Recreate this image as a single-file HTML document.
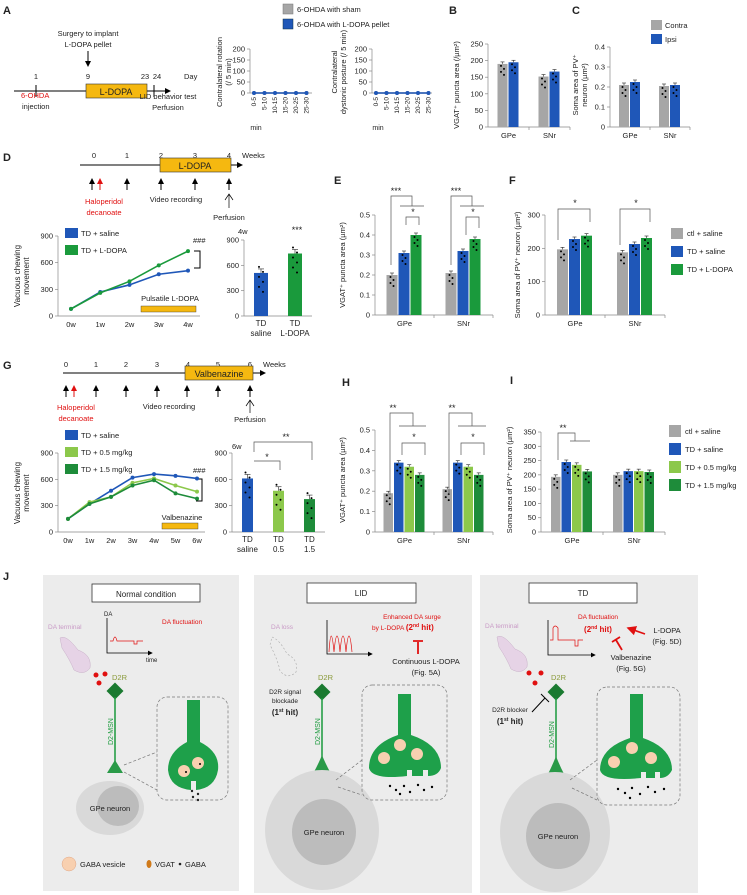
<!DOCTYPE html>
<html><head><meta charset="utf-8"><style>
html,body{margin:0;padding:0;background:#fff}
svg{display:block;font-family:"Liberation Sans",Arial,sans-serif}
</style></head><body>
<svg id="fig" width="747" height="895" viewBox="0 0 747 895" xmlns="http://www.w3.org/2000/svg">
<defs>
<marker id="ah" markerWidth="6" markerHeight="6" refX="5" refY="3" orient="auto"><path d="M0,0 L6,3 L0,6 Z" fill="#000"/></marker>
<marker id="ahr" markerWidth="6" markerHeight="6" refX="5" refY="3" orient="auto"><path d="M0,0 L6,3 L0,6 Z" fill="#e01010"/></marker>
</defs>
<g font-size="7.5" fill="#222">
<!-- Panel labels -->
<text x="3" y="14" font-size="11" font-weight="bold">A</text>
<text x="449" y="14" font-size="11" font-weight="bold">B</text>
<text x="572" y="14" font-size="11" font-weight="bold">C</text>
<text x="3" y="161" font-size="11" font-weight="bold">D</text>
<text x="334" y="184" font-size="11" font-weight="bold">E</text>
<text x="509" y="184" font-size="11" font-weight="bold">F</text>
<text x="3" y="369" font-size="11" font-weight="bold">G</text>
<text x="342" y="386" font-size="11" font-weight="bold">H</text>
<text x="510" y="384" font-size="11" font-weight="bold">I</text>
<text x="3" y="580" font-size="11" font-weight="bold">J</text>

<!-- Panel A timeline -->
<g>
<text x="88" y="36" text-anchor="middle">Surgery to implant</text>
<text x="88" y="47" text-anchor="middle">L-DOPA pellet</text>
<line x1="88" y1="51" x2="88" y2="66" stroke="#000" stroke-width="1" marker-end="url(#ah)"/>
<text x="36" y="79" text-anchor="middle">1</text><text x="88" y="79" text-anchor="middle">9</text>
<text x="145" y="79" text-anchor="middle">23</text><text x="157" y="79" text-anchor="middle">24</text><text x="184" y="79">Day</text>
<line x1="14" y1="91" x2="170" y2="91" stroke="#000" marker-end="url(#ah)"/>
<line x1="36" y1="85" x2="36" y2="97" stroke="#000"/><line x1="154" y1="85" x2="154" y2="97" stroke="#000"/>
<rect x="86" y="84" width="61" height="14" fill="#f5b810" stroke="#333" stroke-width="0.6"/>
<text x="116" y="95" text-anchor="middle" font-size="9">L-DOPA</text>
<text x="21" y="98" fill="#e01010">6-OHDA</text><text x="22" y="109">injection</text>
<text x="168" y="99" text-anchor="middle">LID behavior test</text><text x="168" y="110" text-anchor="middle">Perfusion</text>
</g>
<g>
<rect x="283" y="4" width="10" height="10" fill="#a6a6a6" stroke="#777" stroke-width="0.5"/><text x="297" y="12">6-OHDA with sham</text>
<rect x="283" y="19" width="10" height="10" fill="#1f57b8" stroke="#134" stroke-width="0.5"/><text x="297" y="27">6-OHDA with L-DOPA pellet</text>
</g>
<!-- Legends C -->
<g>
<rect x="651" y="20" width="11" height="10" fill="#a6a6a6"/><text x="665" y="28">Contra</text>
<rect x="651" y="34" width="11" height="10" fill="#1f57b8"/><text x="665" y="42">Ipsi</text>
</g>

<!-- Panel D timeline -->
<g>
<text x="94" y="158" text-anchor="middle">0</text><text x="127" y="158" text-anchor="middle">1</text><text x="161" y="158" text-anchor="middle">2</text><text x="195" y="158" text-anchor="middle">3</text><text x="229" y="158" text-anchor="middle">4</text><text x="242" y="158">Weeks</text>
<line x1="80" y1="165" x2="242" y2="165" stroke="#000" marker-end="url(#ah)"/>
<rect x="160" y="158" width="71" height="14" fill="#f5b810" stroke="#333" stroke-width="0.6"/>
<text x="195" y="169" text-anchor="middle" font-size="9">L-DOPA</text>
<line x1="92" y1="190" x2="92" y2="179" stroke="#000" marker-end="url(#ah)"/>
<line x1="100" y1="190" x2="100" y2="179" stroke="#e01010" marker-end="url(#ahr)"/>
<line x1="127" y1="190" x2="127" y2="179" stroke="#000" marker-end="url(#ah)"/>
<line x1="161" y1="190" x2="161" y2="179" stroke="#000" marker-end="url(#ah)"/>
<line x1="195" y1="190" x2="195" y2="179" stroke="#000" marker-end="url(#ah)"/>
<line x1="229" y1="190" x2="229" y2="179" stroke="#000" marker-end="url(#ah)"/>
<path d="M225,200 L229,194 L233,200 M229,194 L229,208" stroke="#000" fill="none" stroke-width="0.7"/>
<text x="104" y="204" text-anchor="middle" fill="#e01010">Haloperidol</text><text x="104" y="215" text-anchor="middle" fill="#e01010">decanoate</text>
<text x="176" y="202" text-anchor="middle">Video recording</text><text x="229" y="220" text-anchor="middle">Perfusion</text>
</g>
<g>
<rect x="65" y="228" width="13" height="10" fill="#1f57b8"/><text x="81" y="236">TD + saline</text>
<rect x="65" y="245" width="13" height="10" fill="#1a9a3c"/><text x="81" y="253">TD + L-DOPA</text>
<text x="193" y="243">###</text>
<path d="M194,251 H200 V268 H194" stroke="#000" fill="none"/>
<text x="170" y="301" text-anchor="middle">Pulsatile L-DOPA</text>
<rect x="141" y="306" width="55" height="6" fill="#f5b810" stroke="#333" stroke-width="0.4"/>
<text x="238" y="234">4w</text><text x="297" y="233" text-anchor="middle" font-size="9">***</text>
</g>
<g>
<rect x="671" y="228" width="12" height="11" fill="#a6a6a6"/><text x="687" y="236">ctl + saline</text>
<rect x="671" y="246" width="12" height="11" fill="#1f57b8"/><text x="687" y="254">TD + saline</text>
<rect x="671" y="264" width="12" height="11" fill="#1a9a3c"/><text x="687" y="272">TD + L-DOPA</text>
</g>

<!-- Panel G timeline -->
<g>
<text x="66" y="367" text-anchor="middle">0</text><text x="96" y="367" text-anchor="middle">1</text><text x="126" y="367" text-anchor="middle">2</text><text x="157" y="367" text-anchor="middle">3</text><text x="188" y="367" text-anchor="middle">4</text><text x="218" y="367" text-anchor="middle">5</text><text x="250" y="367" text-anchor="middle">6</text><text x="263" y="367">Weeks</text>
<line x1="63" y1="373" x2="265" y2="373" stroke="#000" marker-end="url(#ah)"/>
<rect x="185" y="366" width="68" height="14" fill="#f5b810" stroke="#333" stroke-width="0.6"/>
<text x="219" y="377" text-anchor="middle" font-size="9">Valbenazine</text>
<line x1="66" y1="397" x2="66" y2="386" stroke="#000" marker-end="url(#ah)"/>
<line x1="74" y1="397" x2="74" y2="386" stroke="#e01010" marker-end="url(#ahr)"/>
<line x1="96" y1="397" x2="96" y2="386" stroke="#000" marker-end="url(#ah)"/>
<line x1="126" y1="397" x2="126" y2="386" stroke="#000" marker-end="url(#ah)"/>
<line x1="157" y1="397" x2="157" y2="386" stroke="#000" marker-end="url(#ah)"/>
<line x1="187" y1="397" x2="187" y2="386" stroke="#000" marker-end="url(#ah)"/>
<line x1="218" y1="397" x2="218" y2="386" stroke="#000" marker-end="url(#ah)"/>
<line x1="250" y1="397" x2="250" y2="386" stroke="#000" marker-end="url(#ah)"/>
<path d="M246,406 L250,400 L254,406 M250,400 L250,413" stroke="#000" fill="none" stroke-width="0.7"/>
<text x="76" y="410" text-anchor="middle" fill="#e01010">Haloperidol</text><text x="76" y="421" text-anchor="middle" fill="#e01010">decanoate</text>
<text x="169" y="409" text-anchor="middle">Video recording</text><text x="250" y="422" text-anchor="middle">Perfusion</text>
</g>
<g>
<rect x="65" y="430" width="13" height="10" fill="#1f57b8"/><text x="81" y="438">TD + saline</text>
<rect x="65" y="447" width="13" height="10" fill="#8cc84b"/><text x="81" y="455">TD + 0.5 mg/kg</text>
<rect x="65" y="464" width="13" height="10" fill="#1e8c3a"/><text x="81" y="472">TD + 1.5 mg/kg</text>
<text x="193" y="473">###</text>
<path d="M196,479 H202 V501 H196" stroke="#000" fill="none"/>
<text x="182" y="520" text-anchor="middle">Valbenazine</text>
<rect x="162" y="523" width="36" height="6" fill="#f5b810" stroke="#333" stroke-width="0.4"/>
<text x="232" y="449">6w</text>
</g>
<g>
<rect x="669" y="425" width="12" height="12" fill="#a6a6a6"/><text x="685" y="434">ctl + saline</text>
<rect x="669" y="443" width="12" height="12" fill="#1f57b8"/><text x="685" y="452">TD + saline</text>
<rect x="669" y="461" width="12" height="12" fill="#8cc84b"/><text x="685" y="470">TD + 0.5 mg/kg</text>
<rect x="669" y="479" width="12" height="12" fill="#1e8c3a"/><text x="685" y="488">TD + 1.5 mg/kg</text>
</g>
<g id="charts"></g>

<!-- Panel J -->
<g>
<rect x="43" y="575" width="196" height="316" fill="#ececec"/>
<rect x="92" y="584" width="108" height="18" fill="#fff" stroke="#333" stroke-width="0.8"/>
<text x="146" y="597" text-anchor="middle" font-size="8">Normal condition</text>
<text x="48" y="629" fill="#c99ac6" font-size="6.5">DA terminal</text>
<path d="M60,638 Q66,634 78,650 Q92,655 90,668 Q84,676 74,670 Q70,660 62,648 Z" fill="#e6d3e6" stroke="#c8b0c8" stroke-width="0.5"/>
<text x="104" y="616" font-size="6">DA</text>
<path d="M107,618 V653 H152" stroke="#000" fill="none" stroke-width="0.8" marker-end="url(#ah)"/>
<path d="M110,641 H113 Q115,633 117,641 H134 V644 H137 V641 H143" stroke="#e01010" fill="none" stroke-width="0.7"/>
<text x="146" y="662" font-size="6">time</text>
<text x="162" y="624" fill="#e01010" font-size="6.5">DA fluctuation</text>
<circle cx="96" cy="675" r="2.5" fill="#e01010"/><circle cx="105" cy="674" r="2.5" fill="#e01010"/><circle cx="99" cy="683" r="2.5" fill="#e01010"/>
<text x="112" y="680" fill="#8a9a3a" font-size="7.5">D2R</text>
<rect x="109" y="685" width="12" height="12" fill="#1a7a30" transform="rotate(45 115 691)"/>
<line x1="115" y1="697" x2="115" y2="762" stroke="#1a9a3c" stroke-width="1.5"/>
<text x="0" y="0" fill="#1a9a3c" font-size="7" transform="translate(113,745) rotate(-90)">D2-MSN</text>
<path d="M115,760 L107,773 H123 Z" fill="#2a9a48"/>
<ellipse cx="110" cy="808" rx="34" ry="27" fill="#d9d9d9"/><ellipse cx="118" cy="806" rx="21" ry="20" fill="#bcbcbc"/>
<text x="110" y="811" text-anchor="middle" font-size="7.5">GPe neuron</text>
<rect x="157" y="697" width="71" height="103" rx="10" fill="none" stroke="#777" stroke-dasharray="3,2" stroke-width="0.7"/>
<path d="M124,765 L157,752 M124,772 L157,790" stroke="#777" stroke-dasharray="3,2" stroke-width="0.7"/>
<path d="M187,700 H200 V742 Q220,752 218,770 Q215,788 196,790 V781 H191 V790 Q170,788 168,770 Q168,752 187,742 Z" fill="#1ea04a"/>
<circle cx="184" cy="771" r="6" fill="#f8d0b0"/><circle cx="198" cy="763" r="6" fill="#f8d0b0"/>
<circle cx="186" cy="772" r="1" fill="#000"/><circle cx="200" cy="764" r="1" fill="#000"/>
<circle cx="193" cy="797" r="1.2"/><circle cx="198" cy="794" r="1.2"/><circle cx="198" cy="800" r="1.2"/><circle cx="192" cy="791" r="1.2"/>
<circle cx="69" cy="864" r="7" fill="#f8d0b0" stroke="#e0a888" stroke-width="0.5"/><text x="80" y="867" font-size="7.5">GABA vesicle</text>
<ellipse cx="149" cy="864" rx="2.5" ry="4" fill="#d07a1a"/><text x="155" y="867" font-size="7.5">VGAT</text>
<circle cx="180" cy="864" r="1.3"/><text x="185" y="867" font-size="7.5">GABA</text>
</g>
<g>
<rect x="254" y="575" width="218" height="318" fill="#ececec"/>
<rect x="307" y="583" width="109" height="20" fill="#fff" stroke="#333" stroke-width="0.8"/>
<text x="361" y="596" text-anchor="middle" font-size="8">LID</text>
<text x="271" y="629" fill="#c99ac6" font-size="6.5">DA loss</text>
<path d="M272,637 Q280,640 287,654 Q299,660 296,672 Q288,680 280,671 Q278,660 270,645 Z" fill="none" stroke="#aaa" stroke-dasharray="2,2" stroke-width="0.6"/>
<path d="M327,620 V654 H372" stroke="#000" fill="none" stroke-width="0.8" marker-end="url(#ah)"/>
<path d="M329,652 Q331,620 334,652 Q337,620 340,652 Q343,620 346,652 Q349,620 352,652" stroke="#e01010" fill="none" stroke-width="0.7"/>
<text x="412" y="619" text-anchor="middle" fill="#e01010" font-size="6.5">Enhanced DA surge</text>
<text x="372" y="630" fill="#e01010" font-size="6.5">by L-DOPA <tspan font-weight="bold" font-size="8">(2<tspan font-size="5" dy="-3">nd</tspan><tspan dy="3"> hit)</tspan></tspan></text>
<path d="M418,654 V642 M413,641 H423" stroke="#e01010" stroke-width="1.8" fill="none"/>
<text x="426" y="664" text-anchor="middle" font-size="7.5">Continuous L-DOPA</text>
<text x="426" y="675" text-anchor="middle" font-size="7.5">(Fig. 5A)</text>
<text x="318" y="680" fill="#8a9a3a" font-size="7.5">D2R</text>
<rect x="316" y="686" width="12" height="12" fill="#1a7a30" transform="rotate(45 322 692)"/>
<text x="285" y="694" text-anchor="middle" font-size="6.5">D2R signal</text>
<text x="285" y="703" text-anchor="middle" font-size="6.5">blockade</text>
<text x="285" y="715" text-anchor="middle" font-size="8" font-weight="bold">(1<tspan font-size="5" dy="-3">st</tspan><tspan dy="3"> hit)</tspan></text>
<line x1="322" y1="698" x2="322" y2="757" stroke="#1a9a3c" stroke-width="1.5"/>
<text fill="#1a9a3c" font-size="7" transform="translate(320,745) rotate(-90)">D2-MSN</text>
<path d="M322,755 Q316,770 306,785 Q322,792 338,785 Q328,770 322,755 Z" fill="#2a9a48"/>
<ellipse cx="322" cy="830" rx="57" ry="60" fill="#d9d9d9"/><ellipse cx="324" cy="832" rx="32" ry="33" fill="#bcbcbc"/>
<text x="324" y="835" text-anchor="middle" font-size="7.5">GPe neuron</text>
<rect x="362" y="685" width="85" height="115" rx="10" fill="none" stroke="#777" stroke-dasharray="3,2" stroke-width="0.7"/>
<path d="M336,780 L362,760 M338,787 L362,795" stroke="#777" stroke-dasharray="3,2" stroke-width="0.7"/>
<path d="M398,694 H411 V735 Q441,745 441,768 Q438,776 428,776 V770 H423 V776 H412 V770 H407 V776 Q372,780 369,768 Q369,745 398,735 Z" fill="#1ea04a"/>
<circle cx="400" cy="745" r="6" fill="#f8d0b0"/><circle cx="384" cy="758" r="6" fill="#f8d0b0"/><circle cx="417" cy="754" r="6" fill="#f8d0b0"/>
<g fill="#000"><circle cx="390" cy="786" r="1.2"/><circle cx="396" cy="790" r="1.2"/><circle cx="404" cy="786" r="1.2"/><circle cx="410" cy="792" r="1.2"/><circle cx="418" cy="785" r="1.2"/><circle cx="424" cy="790" r="1.2"/><circle cx="432" cy="787" r="1.2"/><circle cx="400" cy="794" r="1.2"/></g>
</g>
<g>
<rect x="480" y="575" width="218" height="318" fill="#ececec"/>
<rect x="529" y="583" width="108" height="20" fill="#fff" stroke="#333" stroke-width="0.8"/>
<text x="583" y="596" text-anchor="middle" font-size="8">TD</text>
<text x="485" y="628" fill="#c99ac6" font-size="6.5">DA terminal</text>
<path d="M497,637 Q503,633 515,649 Q529,654 527,667 Q521,675 511,669 Q507,659 499,647 Z" fill="#e6d3e6" stroke="#c8b0c8" stroke-width="0.5"/>
<path d="M548,620 V655 H595" stroke="#000" fill="none" stroke-width="0.8" marker-end="url(#ah)"/>
<path d="M550,640 H553 V628 Q555,624 558,628 V640 H575 V646 H578 V640 H583" stroke="#e01010" fill="none" stroke-width="0.7"/>
<text x="598" y="619" text-anchor="middle" fill="#e01010" font-size="6.5">DA fluctuation</text>
<text x="598" y="632" text-anchor="middle" fill="#e01010" font-size="8" font-weight="bold">(2<tspan font-size="5" dy="-3">nd</tspan><tspan dy="3"> hit)</tspan></text>
<line x1="645" y1="634" x2="628" y2="628" stroke="#e01010" stroke-width="1.6" marker-end="url(#ahr)"/>
<text x="667" y="633" text-anchor="middle" font-size="7.5">L-DOPA</text><text x="667" y="644" text-anchor="middle" font-size="7.5">(Fig. 5D)</text>
<path d="M622,650 L616,640 M612,642 L620,637" stroke="#e01010" stroke-width="1.8" fill="none"/>
<text x="631" y="660" text-anchor="middle" font-size="7.5">Valbenazine</text><text x="631" y="671" text-anchor="middle" font-size="7.5">(Fig. 5G)</text>
<circle cx="529" cy="673" r="2.5" fill="#e01010"/><circle cx="541" cy="673" r="2.5" fill="#e01010"/><circle cx="535" cy="683" r="2.5" fill="#e01010"/>
<text x="551" y="680" fill="#8a9a3a" font-size="7.5">D2R</text>
<rect x="550" y="686" width="12" height="12" fill="#1a7a30" transform="rotate(45 556 692)"/>
<path d="M532,712 L545,698 M541,694 L549,702" stroke="#000" stroke-width="1" fill="none"/>
<text x="510" y="712" text-anchor="middle" font-size="6.5">D2R blocker</text>
<text x="510" y="724" text-anchor="middle" font-size="8" font-weight="bold">(1<tspan font-size="5" dy="-3">st</tspan><tspan dy="3"> hit)</tspan></text>
<line x1="556" y1="698" x2="556" y2="758" stroke="#1a9a3c" stroke-width="1.5"/>
<text fill="#1a9a3c" font-size="7" transform="translate(554,748) rotate(-90)">D2-MSN</text>
<path d="M556,756 Q550,772 540,788 Q556,795 572,788 Q562,772 556,756 Z" fill="#2a9a48"/>
<ellipse cx="555" cy="832" rx="55" ry="60" fill="#d9d9d9"/><ellipse cx="558" cy="836" rx="32" ry="33" fill="#bcbcbc"/>
<text x="558" y="839" text-anchor="middle" font-size="7.5">GPe neuron</text>
<rect x="597" y="687" width="83" height="118" rx="10" fill="none" stroke="#777" stroke-dasharray="3,2" stroke-width="0.7"/>
<path d="M570,780 L597,760 M572,788 L597,800" stroke="#777" stroke-dasharray="3,2" stroke-width="0.7"/>
<path d="M630,694 H643 V738 Q672,748 672,770 Q668,778 660,778 V772 H655 V778 H646 V772 H641 V778 Q603,782 600,770 Q600,748 630,738 Z" fill="#1ea04a"/>
<circle cx="632" cy="748" r="6" fill="#f8d0b0"/><circle cx="614" cy="762" r="6" fill="#f8d0b0"/><circle cx="651" cy="758" r="6" fill="#f8d0b0"/>
<g fill="#000"><circle cx="618" cy="789" r="1.2"/><circle cx="625" cy="793" r="1.2"/><circle cx="632" cy="788" r="1.2"/><circle cx="640" cy="794" r="1.2"/><circle cx="648" cy="787" r="1.2"/><circle cx="655" cy="792" r="1.2"/><circle cx="664" cy="789" r="1.2"/><circle cx="630" cy="798" r="1.2"/></g>
</g>
</g>
</svg>
<script>
// ---- Data ----
const aCats = ['0-5','5-10','10-15','15-20','20-25','25-30'];
const aRotSham = [0,0,0,0,0,0];
const aRotLdopa = [0,0,0,0,0,0];
const aDysSham = [0,0,0,0,0,0];
const aDysLdopa = [0,0,0,0,0,0];
const aTicks = [0,50,100,150,200];
const regions = ['GPe','SNr'];
const bContra = [190,152];
const bIpsi = [195,167];
const bTicks = [0,50,100,150,200,250];
const cContra = [0.21,0.205];
const cIpsi = [0.225,0.21];
const cTicks = [0,0.1,0.2,0.3,0.4];
const dWeeks = ['0w','1w','2w','3w','4w'];
const dSaline = [80,270,350,470,510];
const dLdopa = [80,260,390,570,730];
const dTicks = [0,300,600,900];
const dBarCats = [['TD','saline'],['TD','L-DOPA']];
const dBarVals = [510,740];
const eCtl = [0.2,0.21];
const eTDsal = [0.31,0.32];
const eTDldopa = [0.40,0.38];
const eTicks = [0,0.1,0.2,0.3,0.4,0.5];
const fCtl = [197,188];
const fTDsal = [228,213];
const fTDldopa = [238,231];
const fTicks = [0,100,200,300];
const gWeeks = ['0w','1w','2w','3w','4w','5w','6w'];
const gSaline = [150,320,470,620,660,640,610];
const gLow = [150,340,400,560,610,530,460];
const gHigh = [150,320,400,530,590,440,380];
const gBarCats = [['TD','saline'],['TD','0.5'],['TD','1.5']];
const gBarVals = [610,470,375];
const hCtl = [0.19,0.21];
const hSal = [0.34,0.34];
const hLow = [0.32,0.32];
const hHigh = [0.28,0.28];
const iCtl = [193,200];
const iSal = [245,213];
const iLow = [235,213];
const iHigh = [212,210];
const iTicks = [0,50,100,150,200,250,300,350];

const GRAY='#a6a6a6', BLUE='#1f57b8', GREEN='#1a9a3c', LGREEN='#8cc84b', DGREEN='#1e8c3a';
const NS='http://www.w3.org/2000/svg';
const root=document.getElementById('charts');
function mk(tag, attrs, parent){const e=document.createElementNS(NS,tag);for(const k in attrs)e.setAttribute(k,attrs[k]);(parent||root).appendChild(e);return e;}
function lin(v,d0,d1,r0,r1){return r0+(v-d0)/(d1-d0)*(r1-r0);}
function txt(x,y,s,p,anchor,size,rot){const t=mk('text',{x:x,y:y,'font-size':size||7.5,'text-anchor':anchor||'middle',fill:'#222'},p);if(rot)t.setAttribute('transform','rotate(-90 '+x+' '+y+')');t.textContent=s;return t;}

function yAxis(g,x,yb,yt,dmax,ticks,fmt){
  mk('line',{x1:x,y1:yb,x2:x,y2:yt,stroke:'#888','stroke-width':0.7},g);
  ticks.forEach(v=>{const y=lin(v,0,dmax,yb,yt);
    mk('line',{x1:x-3,y1:y,x2:x,y2:y,stroke:'#888','stroke-width':0.7},g);
    txt(x-5,y+2.5,fmt?fmt(v):String(v),g,'end');});
}
function groupedBars(name,x0,x1,yb,yt,dmax,ticks,fmt,series,colors,bw,title){
  const g=mk('g',{});
  
  
  yAxis(g,x0,yb,yt,dmax,ticks,fmt);
  mk('line',{x1:x0,y1:yb,x2:x1,y2:yb,stroke:'#888','stroke-width':0.7},g);
  const n=regions.length, cw=(x1-x0)/n, k=series.length;
  for(let i=0;i<n;i++){
    const cx=x0+(i+0.5)*cw;
    mk('line',{x1:x0+(i+1)*cw,y1:yb,x2:x0+(i+1)*cw,y2:yb+3,stroke:'#888','stroke-width':0.7},g);
    txt(cx,yb+11,regions[i],g);
    for(let j=0;j<k;j++){
      const v=series[j][i];const y=lin(v,0,dmax,yb,yt);
      const bx=cx-k*(bw+1)/2+j*(bw+1);
      const r=mk('rect',{x:bx,y:y,width:bw,height:yb-y,fill:colors[j]},g);
      
      
      mk('line',{x1:bx+bw/2,y1:y-2,x2:bx+bw/2,y2:y,stroke:'#222','stroke-width':0.6},g);
      mk('line',{x1:bx+bw/2-2,y1:y-2,x2:bx+bw/2+2,y2:y-2,stroke:'#222','stroke-width':0.6},g);
      for(let d=0;d<4;d++) mk('circle',{cx:bx+bw/2+(d%2?1.5:-1.5),cy:y+2+d*3,r:1,fill:'#000'},g);
    }
  }
  if(title){title.forEach((t,ii)=>txt(t[0],t[1],t[2],g,'middle',7.5,true));}
  return g;
}
function lineChart(name,x0,x1,px0,pstep,yb,yt,dmax,ticks,cats,series,colors){
  const g=mk('g',{});
  
  
  yAxis(g,x0,yb,yt,dmax,ticks);
  mk('line',{x1:x0,y1:yb,x2:x1,y2:yb,stroke:'#888','stroke-width':0.7},g);
  cats.forEach((c,i)=>{const x=px0+i*pstep;txt(x,yb+11,c,g);});
  series.forEach((s,j)=>{
    const pts=s.map((v,i)=>(px0+i*pstep)+','+lin(v,0,dmax,yb,yt)).join(' ');
    const pl=mk('polyline',{points:pts,fill:'none',stroke:colors[j],'stroke-width':1.6},g);
    
    
    s.forEach((v,i)=>{const c=mk('circle',{cx:px0+i*pstep,cy:lin(v,0,dmax,yb,yt),r:2,fill:colors[j]},g);
      
      });
  });
  return g;
}
function simpleBars(name,x0,x1,yb,yt,dmax,ticks,cats,vals,colors,bw){
  const g=mk('g',{});
  
  
  yAxis(g,x0,yb,yt,dmax,ticks);
  mk('line',{x1:x0,y1:yb,x2:x1,y2:yb,stroke:'#888','stroke-width':0.7},g);
  const cw=(x1-x0)/cats.length;
  cats.forEach((c,i)=>{const cx=x0+(i+0.5)*cw;const y=lin(vals[i],0,dmax,yb,yt);
    const r=mk('rect',{x:cx-bw/2,y:y,width:bw,height:yb-y,fill:colors[i]},g);
    
    
    mk('line',{x1:cx-3,y1:y-4,x2:cx+3,y2:y-4,stroke:'#222','stroke-width':0.6},g);
    mk('line',{x1:cx,y1:y-4,x2:cx,y2:y,stroke:'#222','stroke-width':0.6},g);
    for(let d=0;d<6;d++) mk('circle',{cx:cx+(d%2?2:-2),cy:y-6+d*5,r:1,fill:'#000'},g);
    txt(cx,yb+10,c[0],g,'middle',8);txt(cx,yb+20,c[1],g,'middle',8);});
  return g;
}
function sig(g,pathD,label,lx,ly){mk('path',{d:pathD,stroke:'#555',fill:'none','stroke-width':0.7},g);txt(lx,ly,label,g,'middle',9);}

// Panel A small line charts
const aRot=lineChart('rotation-chart',250,312,254,10.5,93,49,200,aTicks,[],[aRotSham,aRotLdopa],[GRAY,BLUE]);
aCats.forEach((c,i)=>txt(254+i*10.5+2,97,c,aRot,'end',6.5,true));
txt(256,104+26,'min',aRot,'middle',7);
txt(222,72,'Contralateral rotation',aRot,'middle',7.5,true);txt(231,72,'(/ 5 min)',aRot,'middle',7.5,true);
const aDys=lineChart('dystonic-posture-chart',372,432,376,10.5,93,49,200,aTicks,[],[aDysSham,aDysLdopa],[GRAY,BLUE]);
aCats.forEach((c,i)=>txt(376+i*10.5+2,97,c,aDys,'end',6.5,true));
txt(378,130,'min',aDys,'middle',7);
txt(337,72,'Contralateral',aDys,'middle',7.5,true);txt(346,72,'dystonic posture (/ 5 min)',aDys,'middle',7.5,true);

groupedBars('chart-b',488,570,127,44,250,bTicks,null,[bContra,bIpsi],[GRAY,BLUE],10,[[459,85,'VGAT⁺ puncta area (/µm²)']]);
groupedBars('chart-c',610,690,127,47,0.4,cTicks,v=>v===0?'0':String(v),[cContra,cIpsi],[GRAY,BLUE],10,[[578,85,'Soma area of PV⁺'],[587,85,'neuron (µm²)']]);

lineChart('chart-d-line',58,200,71,29.25,316,236,900,dTicks,dWeeks,[dSaline,dLdopa],[BLUE,GREEN]);
txt(20,276,'Vacuous chewing',root,'middle',8,true);txt(29,276,'movement',root,'middle',8,true);
simpleBars('chart-d-bar',244,312,316,240,900,dTicks,dBarCats,dBarVals,[BLUE,GREEN],14);

const gE=groupedBars('chart-e',375,493,315,215,0.5,eTicks,v=>v===0?'0':String(v),[eCtl,eTDsal,eTDldopa],[GRAY,BLUE,GREEN],11,[[345,265,'VGAT⁺ puncta area (µm²)']]);
sig(gE,'M391,265 V196 H412 V206 M400,206 H424','***',396,194);
sig(gE,'M406,225 V217 H419 V225','*',413,215);
sig(gE,'M451,265 V196 H472 V206 M460,206 H484','***',456,194);
sig(gE,'M466,235 V217 H479 V228','*',473,215);
const gF=groupedBars('chart-f',545,665,315,215,300,fTicks,null,[fCtl,fTDsal,fTDldopa],[GRAY,BLUE,GREEN],11,[[520,265,'Soma area of PV⁺ neuron (µm²)']]);
sig(gF,'M558,240 V209 H590 V222','*',575,206);
sig(gF,'M620,245 V209 H650 V222','*',636,206);

lineChart('chart-g-line',58,205,68,21.5,532,453,900,dTicks,gWeeks,[gSaline,gLow,gHigh],[BLUE,LGREEN,DGREEN]);
txt(20,493,'Vacuous chewing',root,'middle',8,true);txt(29,493,'movement',root,'middle',8,true);
const gG=simpleBars('chart-g-bar',232,325,532,453,900,dTicks,gBarCats,gBarVals,[BLUE,LGREEN,DGREEN],11);
sig(gG,'M254,452 V442 H312 V460','**',286,440);
sig(gG,'M254,461 H280 V470','*',267,460);

const gH=groupedBars('chart-h',375,493,532,430,0.5,eTicks,v=>v===0?'0':String(v),[hCtl,hSal,hLow,hHigh],[GRAY,BLUE,LGREEN,DGREEN],9.5,[[345,480,'VGAT⁺ puncta area (µm²)']]);
sig(gH,'M390,495 V413 H413 V426 M399,426 H426','**',393,411);
sig(gH,'M402,455 V443 H425 V455','*',414,440);
sig(gH,'M449,495 V413 H472 V426 M458,426 H486','**',452,411);
sig(gH,'M461,455 V443 H484 V455','*',473,440);
const gI=groupedBars('chart-i',541,665,532,432,350,iTicks,null,[iCtl,iSal,iLow,iHigh],[GRAY,BLUE,LGREEN,DGREEN],9.5,[[512,480,'Soma area of PV⁺ neuron (µm²)']]);
sig(gI,'M558,460 V433 H575 V441 M570,441 H590','**',563,431);
</script>
</body></html>
